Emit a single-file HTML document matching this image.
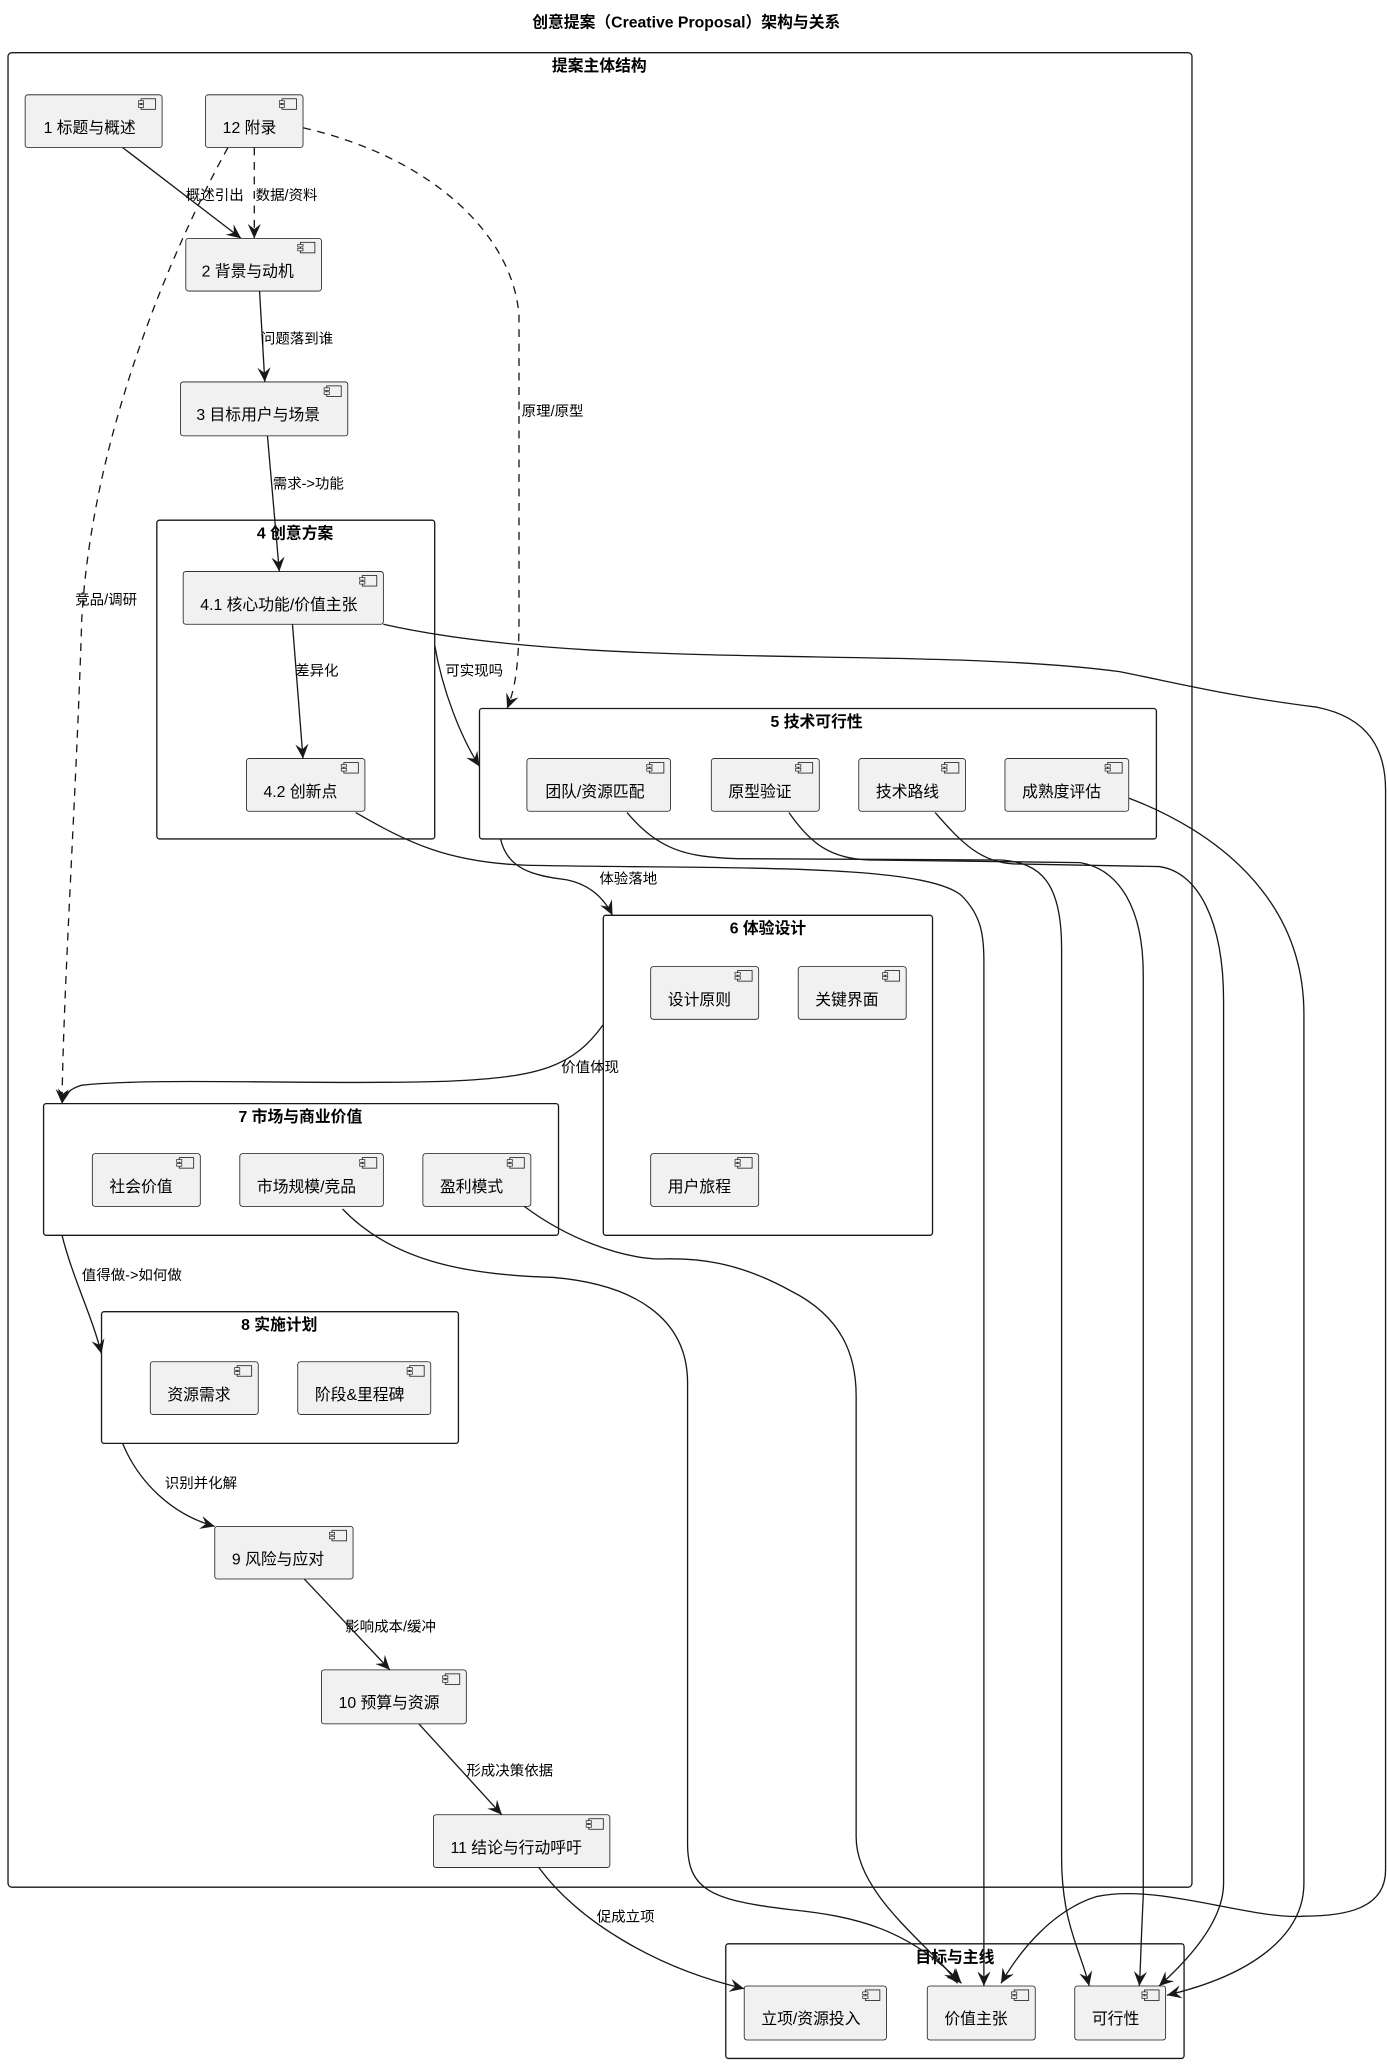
<!DOCTYPE html>
<html><head><meta charset="utf-8"><style>
html,body{margin:0;padding:0;background:#fff;}
svg{display:block;}
text{font-family:"Liberation Sans","Noto Sans CJK SC",sans-serif;fill:#000;}
.n{font-size:12px;}
.g{font-size:12px;font-weight:bold;}
.e{font-size:11px;}
.nb{fill:#f1f1f1;stroke:#181818;stroke-width:0.6;}
.gb{fill:none;stroke:#181818;stroke-width:1;}
.l{fill:none;stroke:#181818;stroke-width:1;}
.d{fill:none;stroke:#181818;stroke-width:1;stroke-dasharray:6,5;}
</style></head><body>
<svg width="1387" height="2065" viewBox="0 0 1053 1568" xmlns="http://www.w3.org/2000/svg">
<defs>
<marker id="a" viewBox="0 0 12 10" refX="11" refY="5" markerWidth="12" markerHeight="10" markerUnits="userSpaceOnUse" orient="auto">
<path d="M0,0 L11,5 L0,10 L4,5 Z" fill="#181818"/></marker>
<g id="ic"><rect x="0" y="0" width="11" height="8" fill="#f1f1f1" stroke="#181818" stroke-width="0.6"/><rect x="-2" y="1.5" width="4" height="2" fill="#f1f1f1" stroke="#181818" stroke-width="0.5"/><rect x="-2" y="4.5" width="4" height="2" fill="#f1f1f1" stroke="#181818" stroke-width="0.5"/></g>
</defs>
<text x="521" y="21" class="g" text-anchor="middle">创意提案（Creative Proposal）架构与关系</text>

<!-- groups -->
<rect class="gb" x="6" y="40" width="899" height="1393" rx="3"/>
<text x="455" y="54" class="g" text-anchor="middle">提案主体结构</text>
<rect class="gb" x="119" y="395" width="211" height="242" rx="2"/>
<text x="224" y="409" class="g" text-anchor="middle">4 创意方案</text>
<rect class="gb" x="364" y="538" width="514" height="99" rx="2"/>
<text x="620" y="552" class="g" text-anchor="middle">5 技术可行性</text>
<rect class="gb" x="458" y="695" width="250" height="243" rx="2"/>
<text x="583" y="709" class="g" text-anchor="middle">6 体验设计</text>
<rect class="gb" x="33" y="838" width="391" height="100" rx="2"/>
<text x="228" y="852" class="g" text-anchor="middle">7 市场与商业价值</text>
<rect class="gb" x="77" y="996" width="271" height="100" rx="2"/>
<text x="212" y="1010" class="g" text-anchor="middle">8 实施计划</text>
<rect class="gb" x="551" y="1476" width="348" height="87" rx="2"/>
<text x="725" y="1490" class="g" text-anchor="middle">目标与主线</text>

<!-- edges -->
<path class="l" d="M93,112 L183,181" marker-end="url(#a)"/>
<path class="d" d="M193,112 L193,181" marker-end="url(#a)"/>
<path class="d" d="M173,112 C130,190 70,330 62,470 C58,600 48,750 47,838" marker-end="url(#a)"/>
<path class="d" d="M230,97 C330,120 390,180 394,240 L394,470 C394,510 390,525 385,538" marker-end="url(#a)"/>
<path class="l" d="M197,221 L201,290" marker-end="url(#a)"/>
<path class="l" d="M203,331 L212,434" marker-end="url(#a)"/>
<path class="l" d="M222,474 L230,576" marker-end="url(#a)"/>
<path class="l" d="M330,490 C336,525 350,560 364,582" marker-end="url(#a)"/>
<path class="l" d="M380,637 C385,660 405,665 430,668 C450,672 460,685 465,695" marker-end="url(#a)"/>
<path class="l" d="M458,778 C435,810 410,818 340,821 C240,824 120,818 62,824 C52,827 48,832 47,838" marker-end="url(#a)"/>
<path class="l" d="M47,938 C55,970 70,1000 77,1028" marker-end="url(#a)"/>
<path class="l" d="M93,1096 C105,1125 130,1150 163,1159" marker-end="url(#a)"/>
<path class="l" d="M231,1199 L296,1268" marker-end="url(#a)"/>
<path class="l" d="M318,1309 L381,1378" marker-end="url(#a)"/>
<path class="l" d="M409,1418 C440,1460 500,1495 565,1510" marker-end="url(#a)"/>
<path class="l" d="M291,474 C450,510 700,490 850,510 C900,520 930,528 1000,537 C1040,545 1052,570 1052,600 L1052,1420 C1052,1450 1020,1455 990,1455 C950,1458 880,1430 833,1440 C800,1450 775,1480 760,1506" marker-end="url(#a)"/>
<path class="l" d="M270,617 C310,640 340,655 400,657 C550,660 700,655 730,680 C745,695 747,710 747,730 L747,1508" marker-end="url(#a)"/>
<path class="l" d="M476,617 C500,645 520,651 560,652 L760,653 C790,655 806,670 806,720 L806,1410 C806,1460 820,1480 827,1508" marker-end="url(#a)"/>
<path class="l" d="M599,617 C615,640 630,652 660,653 L820,655 C850,660 868,690 868,740 L868,1440 C866,1480 866,1495 865,1508" marker-end="url(#a)"/>
<path class="l" d="M710,617 C730,640 745,655 770,656 L880,658 C910,662 929,700 929,760 L929,1430 C929,1460 900,1490 880,1508" marker-end="url(#a)"/>
<path class="l" d="M857,606 C920,630 990,680 990,770 L990,1430 C990,1470 950,1500 886,1515" marker-end="url(#a)"/>
<path class="l" d="M260,918 C300,960 360,968 420,970 C480,975 522,1000 522,1050 L522,1400 C522,1435 540,1443 600,1450 C650,1455 690,1465 730,1506" marker-end="url(#a)"/>
<path class="l" d="M398,916 C430,940 470,955 500,956 C530,955 560,958 600,980 C640,1000 650,1030 650,1060 L650,1395 C650,1440 710,1480 727,1506" marker-end="url(#a)"/>

<!-- edge labels -->
<g class="e">
<text x="141" y="152" class="e">概述引出</text>
<text x="194" y="152" class="e">数据/资料</text>
<text x="57" y="459" class="e">竞品/调研</text>
<text x="396" y="316" class="e">原理/原型</text>
<text x="198" y="261" class="e">问题落到谁</text>
<text x="207" y="371" class="e">需求-&gt;功能</text>
<text x="224" y="513" class="e">差异化</text>
<text x="338" y="513" class="e">可实现吗</text>
<text x="455" y="671" class="e">体验落地</text>
<text x="426" y="814" class="e">价值体现</text>
<text x="62" y="972" class="e">值得做-&gt;如何做</text>
<text x="125" y="1130" class="e">识别并化解</text>
<text x="262" y="1239" class="e">影响成本/缓冲</text>
<text x="354" y="1348" class="e">形成决策依据</text>
<text x="453" y="1459" class="e">促成立项</text>
</g>

<!-- nodes -->
<g>
<rect class="nb" x="19" y="72" width="104" height="40" rx="2"/><use href="#ic" x="107" y="75"/><text class="n" x="33" y="101">1 标题与概述</text>
<rect class="nb" x="156" y="72" width="74" height="40" rx="2"/><use href="#ic" x="214" y="75"/><text class="n" x="169" y="101">12 附录</text>
<rect class="nb" x="141" y="181" width="103" height="40" rx="2"/><use href="#ic" x="228" y="184"/><text class="n" x="153" y="210">2 背景与动机</text>
<rect class="nb" x="137" y="290" width="127" height="41" rx="2"/><use href="#ic" x="248" y="293"/><text class="n" x="149" y="319">3 目标用户与场景</text>
<rect class="nb" x="139" y="434" width="152" height="40" rx="2"/><use href="#ic" x="275" y="437"/><text class="n" x="152" y="463">4.1 核心功能/价值主张</text>
<rect class="nb" x="187" y="576" width="90" height="40" rx="2"/><use href="#ic" x="261" y="579"/><text class="n" x="200" y="605">4.2 创新点</text>
<rect class="nb" x="400" y="576" width="109" height="40" rx="2"/><use href="#ic" x="493" y="579"/><text class="n" x="414" y="605">团队/资源匹配</text>
<rect class="nb" x="540" y="576" width="82" height="40" rx="2"/><use href="#ic" x="606" y="579"/><text class="n" x="553" y="605">原型验证</text>
<rect class="nb" x="652" y="576" width="81" height="40" rx="2"/><use href="#ic" x="717" y="579"/><text class="n" x="665" y="605">技术路线</text>
<rect class="nb" x="763" y="576" width="94" height="40" rx="2"/><use href="#ic" x="841" y="579"/><text class="n" x="776" y="605">成熟度评估</text>
<rect class="nb" x="494" y="734" width="82" height="40" rx="2"/><use href="#ic" x="560" y="737"/><text class="n" x="507" y="763">设计原则</text>
<rect class="nb" x="606" y="734" width="82" height="40" rx="2"/><use href="#ic" x="672" y="737"/><text class="n" x="619" y="763">关键界面</text>
<rect class="nb" x="494" y="876" width="82" height="40" rx="2"/><use href="#ic" x="560" y="879"/><text class="n" x="507" y="905">用户旅程</text>
<rect class="nb" x="70" y="876" width="82" height="40" rx="2"/><use href="#ic" x="136" y="879"/><text class="n" x="83" y="905">社会价值</text>
<rect class="nb" x="182" y="876" width="109" height="40" rx="2"/><use href="#ic" x="275" y="879"/><text class="n" x="195" y="905">市场规模/竞品</text>
<rect class="nb" x="321" y="876" width="82" height="40" rx="2"/><use href="#ic" x="387" y="879"/><text class="n" x="334" y="905">盈利模式</text>
<rect class="nb" x="114" y="1034" width="82" height="40" rx="2"/><use href="#ic" x="180" y="1037"/><text class="n" x="127" y="1063">资源需求</text>
<rect class="nb" x="226" y="1034" width="101" height="40" rx="2"/><use href="#ic" x="311" y="1037"/><text class="n" x="239" y="1063">阶段&amp;里程碑</text>
<rect class="nb" x="163" y="1159" width="105" height="40" rx="2"/><use href="#ic" x="252" y="1162"/><text class="n" x="176" y="1188">9 风险与应对</text>
<rect class="nb" x="244" y="1268" width="110" height="41" rx="2"/><use href="#ic" x="338" y="1271"/><text class="n" x="257" y="1297">10 预算与资源</text>
<rect class="nb" x="329" y="1378" width="134" height="40" rx="2"/><use href="#ic" x="447" y="1381"/><text class="n" x="342" y="1407">11 结论与行动呼吁</text>
<rect class="nb" x="565" y="1508" width="108" height="41" rx="2"/><use href="#ic" x="657" y="1511"/><text class="n" x="578" y="1537">立项/资源投入</text>
<rect class="nb" x="704" y="1508" width="82" height="41" rx="2"/><use href="#ic" x="770" y="1511"/><text class="n" x="717" y="1537">价值主张</text>
<rect class="nb" x="816" y="1508" width="69" height="41" rx="2"/><use href="#ic" x="869" y="1511"/><text class="n" x="829" y="1537">可行性</text>
</g>
</svg>
</body></html>
